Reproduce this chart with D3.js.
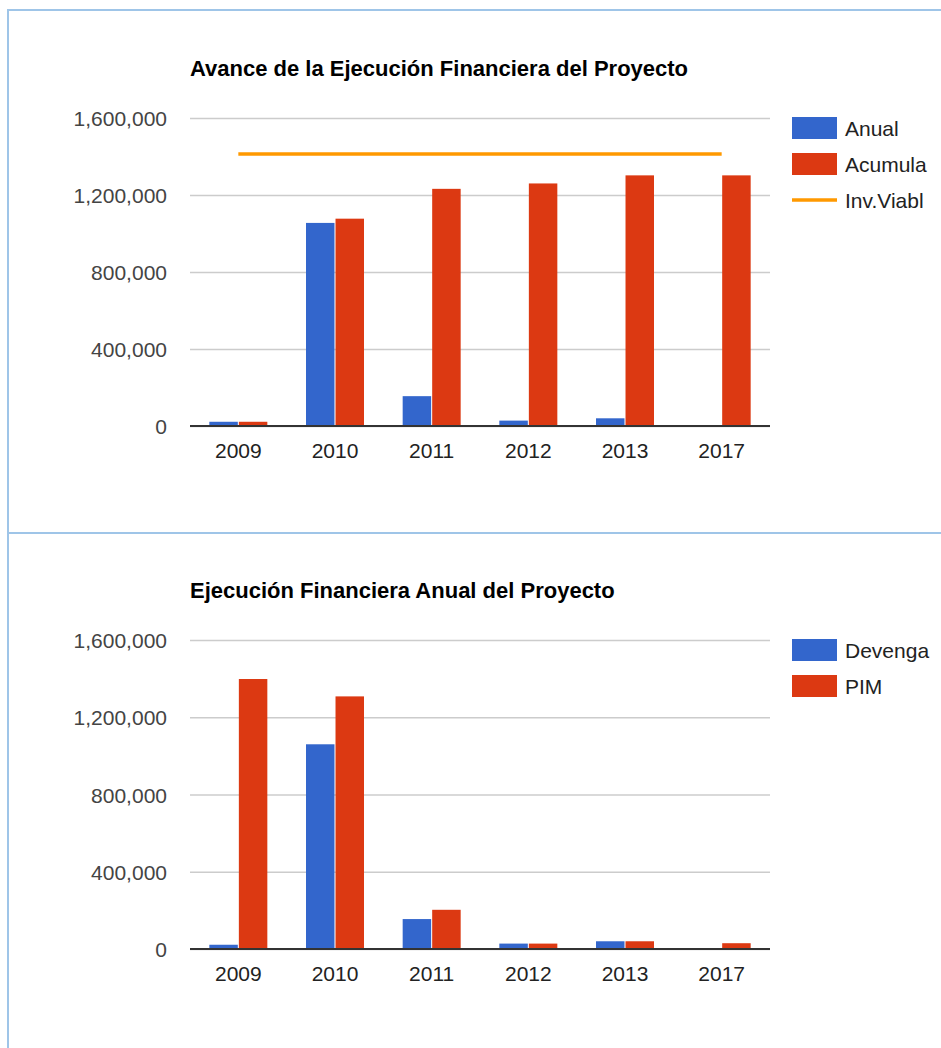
<!DOCTYPE html>
<html>
<head>
<meta charset="utf-8">
<script src="https://cdn.jsdelivr.net/npm/d3@7"></script>
<style>
  body { margin: 0; background: #fff; }
  text { font-family: Arial, "Liberation Sans", sans-serif; }
</style>
</head>
<body>
<script>
/* DATA */
const years = ["2009", "2010", "2011", "2012", "2013", "2017"];
const yTicks = [0, 400000, 800000, 1200000, 1600000];

// chart 1 - avance
const anual = [22000, 1055000, 155000, 28000, 40000, 0];
const acumulado = [22000, 1077000, 1232000, 1260000, 1302000, 1302000];
const invViable = [1413000, 1413000, 1413000, 1413000, 1413000, 1413000];

// chart 2 - anual
const devengado = [22000, 1060000, 155000, 28000, 40000, 0];
const pim = [1398000, 1308000, 203000, 28000, 40000, 30000];

// legend labels as they show in the panel (cut by the panel edge)
const legend1 = ["Anual", "Acumula", "Inv.Viabl"];
const legend2 = ["Devenga", "PIM"];

/* CONSTANTS */
const width = 941;
const height = 1048;
const blue = "#3366cc";
const red = "#dc3912";
const orange = "#ff9900";
const borderColor = "#9fc5e8";
const fs = 21;

const svg = d3.select("body").append("svg")
    .attr("width", width)
    .attr("height", height);

//PANEL BORDERS
svg.append("line")
    .attr("x1", 7).attr("x2", width).attr("y1", 10).attr("y2", 10)
    .attr("stroke", borderColor).attr("stroke-width", 2);
svg.append("line")
    .attr("x1", 8).attr("x2", 8).attr("y1", 9).attr("y2", height)
    .attr("stroke", borderColor).attr("stroke-width", 2);
svg.append("line")
    .attr("x1", 7).attr("x2", width).attr("y1", 533).attr("y2", 533)
    .attr("stroke", borderColor).attr("stroke-width", 2);


function drawChart(opts) {
    const g = svg.append("g");
    const left = 190, right = 770;

    //X-SCALE
    const x = d3.scaleBand()
        .domain(years)
        .range([left, right]);

    const groupW = x.bandwidth() * 0.6;
    const x1 = d3.scaleBand()
        .domain(opts.bars.map(b => b.name))
        .range([0, groupW])
        .paddingInner(0.035);

    //Y-SCALE
    const y = d3.scaleLinear()
        .domain([0, 1600000])
        .range([opts.base, opts.top]);

    //TITLE
    g.append("text")
        .attr("x", left)
        .attr("y", opts.top - 42)
        .attr("font-size", 22)
        .attr("font-weight", "bold")
        .attr("fill", "#000")
        .text(opts.title);

    //GRIDLINES + Y LABELS
    const yAxis = d3.axisLeft(y)
        .tickValues(yTicks)
        .tickSize(-(right - left))
        .tickPadding(23)
        .tickFormat(d3.format(","));

    const ya = g.append("g")
        .attr("transform", "translate(" + left + ",0)")
        .call(yAxis);
    ya.select(".domain").remove();
    ya.selectAll("line").attr("stroke", "#cccccc").attr("stroke-width", 1.5);
    ya.selectAll("text")
        .attr("font-size", fs)
        .attr("fill", "#444")
        .attr("dy", "0.36em");

    //BARS
    opts.bars.forEach(b => {
        g.selectAll(".bar-" + b.name)
            .data(b.values)
            .enter()
            .append("rect")
            .attr("x", (d, i) => x(years[i]) + (x.bandwidth() - groupW) / 2 + x1(b.name))
            .attr("width", x1.bandwidth())
            .attr("y", d => y(d))
            .attr("height", d => opts.base - y(d))
            .attr("fill", b.color);
    });

    //LINE SERIES
    if (opts.line) {
        const line = d3.line()
            .x((d, i) => x(years[i]) + x.bandwidth() / 2)
            .y(d => y(d));
        g.append("path")
            .datum(opts.line.values)
            .attr("d", line)
            .attr("fill", "none")
            .attr("stroke", orange)
            .attr("stroke-width", 3.5);
    }

    //BASELINE
    g.append("line")
        .attr("x1", left).attr("x2", right)
        .attr("y1", opts.base).attr("y2", opts.base)
        .attr("stroke", "#333").attr("stroke-width", 2);

    //X LABELS
    const xAxis = d3.axisBottom(x).tickSize(0).tickPadding(17);
    const xa = g.append("g")
        .attr("transform", "translate(0," + opts.base + ")")
        .call(xAxis);
    xa.select(".domain").remove();
    xa.selectAll("text")
        .attr("font-size", fs)
        .attr("fill", "#222");

    //LEGEND
    const items = opts.bars.map((b, i) => ({ name: opts.legend[i], color: b.color, type: "box" }));
    if (opts.line) items.push({ name: opts.legend[items.length], color: orange, type: "line" });

    items.forEach((it, i) => {
        const cy = opts.top + 10 + i * 36;
        if (it.type === "box") {
            g.append("rect")
                .attr("x", 792).attr("y", cy - 11)
                .attr("width", 45).attr("height", 22)
                .attr("fill", it.color);
        } else {
            g.append("line")
                .attr("x1", 792).attr("x2", 837)
                .attr("y1", cy).attr("y2", cy)
                .attr("stroke", it.color).attr("stroke-width", 3.5);
        }
        g.append("text")
            .attr("x", 845)
            .attr("y", cy)
            .attr("dy", "0.36em")
            .attr("font-size", fs)
            .attr("fill", "#222")
            .text(it.name);
    });
}

drawChart({
    title: "Avance de la Ejecución Financiera del Proyecto",
    top: 118,
    base: 426,
    legend: legend1,
    bars: [
        { name: "anual", values: anual, color: blue },
        { name: "acum", values: acumulado, color: red }
    ],
    line: { values: invViable }
});

drawChart({
    title: "Ejecución Financiera Anual del Proyecto",
    top: 640,
    base: 949,
    legend: legend2,
    bars: [
        { name: "dev", values: devengado, color: blue },
        { name: "pim", values: pim, color: red }
    ]
});
</script>
</body>
</html>
